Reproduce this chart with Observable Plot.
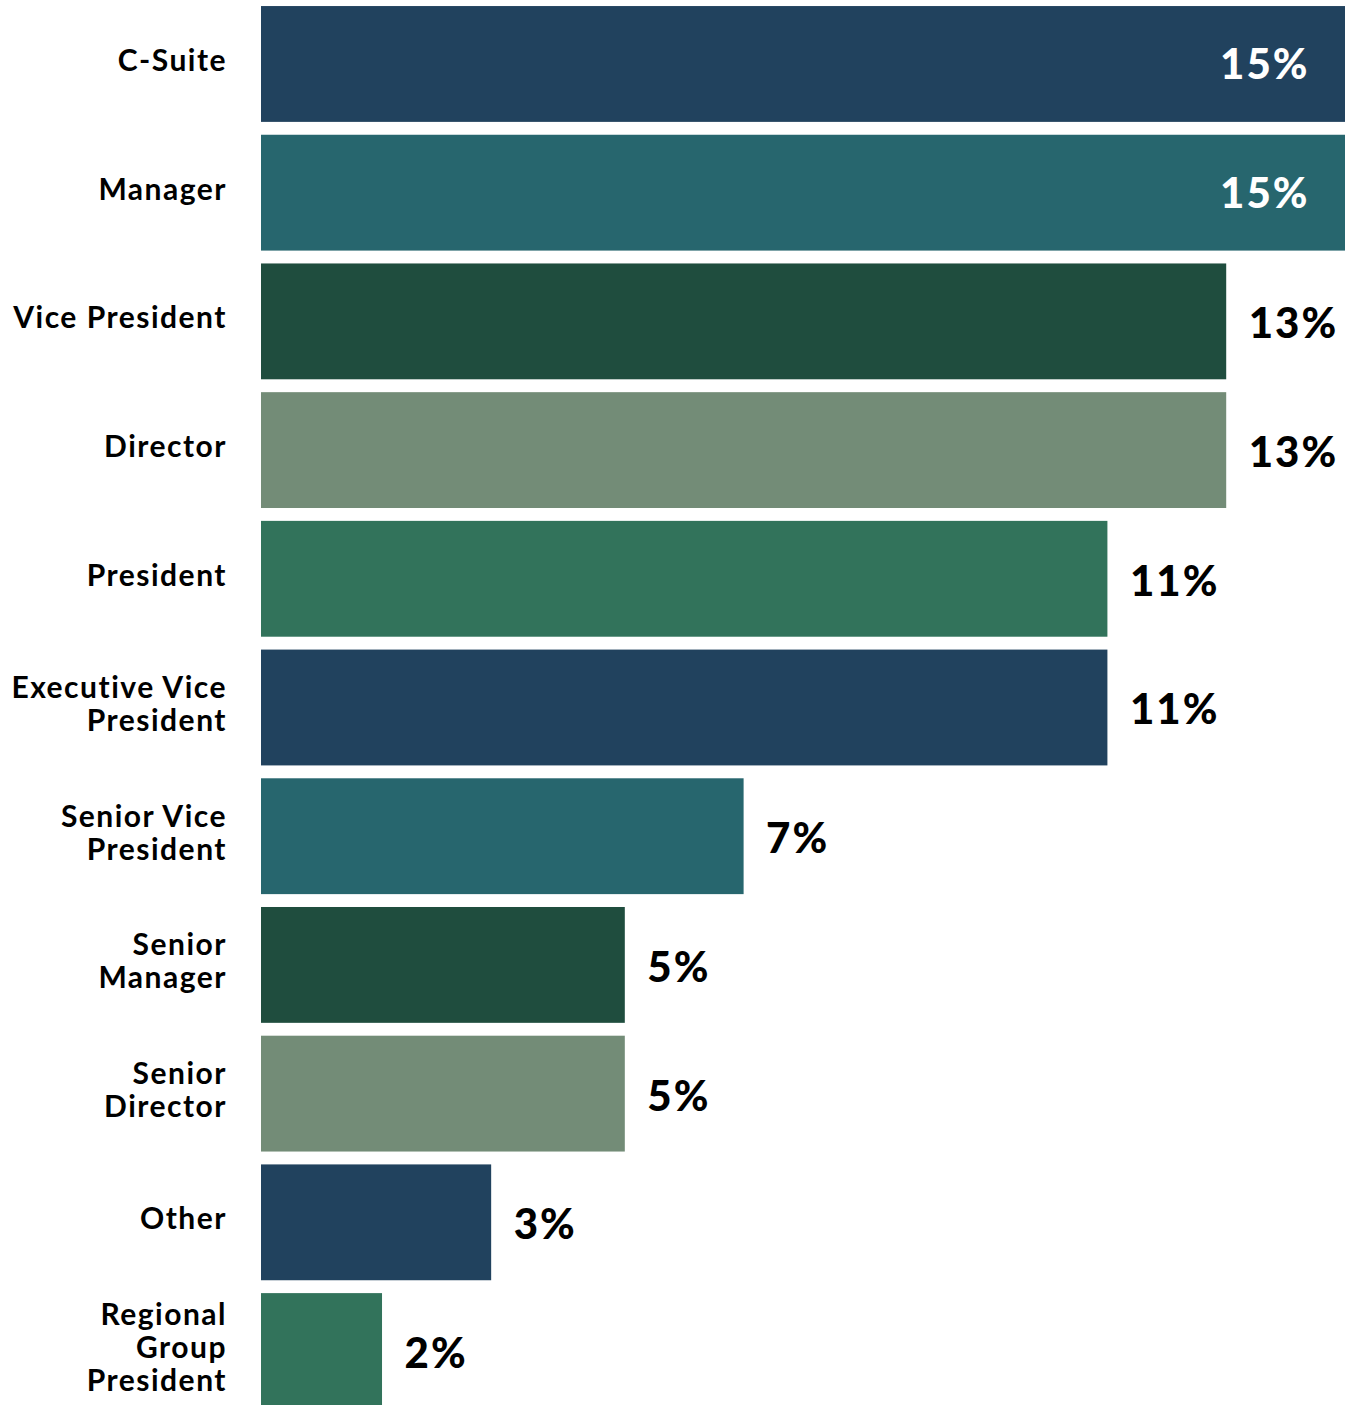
<!DOCTYPE html>
<html>
<head>
<meta charset="utf-8">
<script src="https://cdn.jsdelivr.net/npm/d3@7"></script>
<script src="https://cdn.jsdelivr.net/npm/@observablehq/plot@0.6"></script>
<style>
  html, body { margin: 0; padding: 0; background: #fff; overflow: hidden; }
  #chart svg { display: block; }
  #chart g[aria-label="y-axis tick label"] text { letter-spacing: 1.5px; }
  #chart g.value-label text { letter-spacing: 2px; }
</style>
</head>
<body>
<div id="chart"></div>
<script>
const categories = [
  "C-Suite", "Manager", "Vice President", "Director", "President",
  "Executive Vice President", "Senior Vice President", "Senior Manager",
  "Senior Director", "Other", "Regional Group President"
];
const labelLines = [
  "C-Suite", "Manager", "Vice President", "Director", "President",
  "Executive Vice\nPresident", "Senior Vice\nPresident", "Senior\nManager",
  "Senior\nDirector", "Other", "Regional\nGroup\nPresident"
];
const values = [14.6, 14.6, 13.0, 13.0, 11.4, 11.4, 6.5, 4.9, 4.9, 3.1, 1.63];
const barColors = [
  "#21425e", "#27666e", "#1f4d3e", "#738c77", "#32735b",
  "#21425e", "#27666e", "#1f4d3e", "#738c77", "#21425e", "#32735b"
];

const data = categories.map((c, i) => ({
  category: c,
  label: labelLines[i],
  value: values[i],
  color: barColors[i],
  text: Math.round(values[i]) + "%"
}));
const maxV = d3.max(values);
const labelOf = new Map(data.map(d => [d.category, d.label]));

const chart = Plot.plot({
  width: 1345,
  height: 1415,
  marginLeft: 261,
  marginRight: 0,
  marginTop: 0,
  marginBottom: 0,
  style: { fontFamily: "Lato, sans-serif", background: "#fff" },
  x: { domain: [0, maxV], axis: null },
  y: { domain: categories, paddingInner: 0.1, paddingOuter: 0.047, round: false, label: null },
  color: { type: "identity" },
  marks: [
    Plot.barX(data, { x: "value", y: "category", fill: "color" }),
    Plot.axisY({
      tickSize: 0,
      tickPadding: 34.5,
      tickFormat: d => labelOf.get(d),
      fontSize: 30,
      fontWeight: 700,
      lineHeight: 1.1,
      dy: -4,
      fill: "#000",
      label: null
    }),
    Plot.text(data.filter(d => d.value === maxV), {
      x: "value", y: "category", text: "text",
      textAnchor: "end", dx: -36, dy: 1,
      fill: "#fff", fontSize: 42, fontWeight: 900,
      className: "value-label"
    }),
    Plot.text(data.filter(d => d.value !== maxV), {
      x: "value", y: "category", text: "text",
      textAnchor: "start", dx: 22, dy: 3,
      fill: "#000", fontSize: 42, fontWeight: 900,
      className: "value-label"
    })
  ]
});
document.getElementById("chart").appendChild(chart);
</script>
</body>
</html>
